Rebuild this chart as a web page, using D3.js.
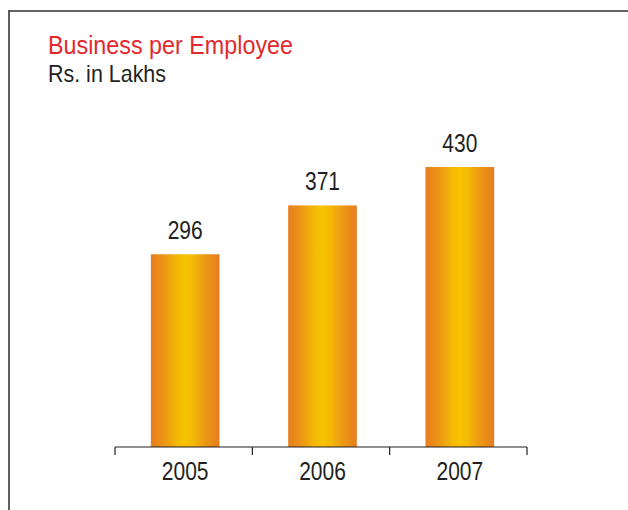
<!DOCTYPE html>
<html>
<head>
<meta charset="utf-8">
<script src="https://cdn.jsdelivr.net/npm/d3@7/dist/d3.min.js"></script>
<style>
  html, body { margin: 0; padding: 0; background: #fff; }
  svg { display: block; }
</style>
</head>
<body>
<svg id="chart" width="628" height="510"></svg>
<script>
// Business per employee, Rs. in Lakhs
const years = ["2005", "2006", "2007"];
const values = [296, 371, 430];
const titleText = "Business per Employee";
const unitText = "Rs. in Lakhs";

const svg = d3.select("#chart");
const W = 628, H = 510;

// frame: top and left rules
svg.append("line").attr("x1", 9).attr("x2", W).attr("y1", 11).attr("y2", 11)
  .attr("stroke", "#666462").attr("stroke-width", 2);
svg.append("line").attr("x1", 9).attr("x2", 9).attr("y1", 10).attr("y2", H)
  .attr("stroke", "#3a3836").attr("stroke-width", 1.6);

// titles
svg.append("text").attr("x", 48).attr("y", 54)
  .attr("font-family", "'Liberation Sans', Arial, sans-serif")
  .attr("font-size", 25).attr("fill", "#e2292d")
  .attr("textLength", 245).attr("lengthAdjust", "spacingAndGlyphs")
  .text(titleText);
svg.append("text").attr("x", 48).attr("y", 82)
  .attr("font-family", "'Liberation Sans', Arial, sans-serif")
  .attr("font-size", 24).attr("fill", "#231f20")
  .attr("textLength", 118).attr("lengthAdjust", "spacingAndGlyphs")
  .text(unitText);

// scales
const baseY = 447;
const x = d3.scaleBand().domain(years).range([115, 527])
  .paddingInner(0.5).paddingOuter(0.25);
const y = d3.scaleLinear().domain([0, 430]).range([baseY, 167]);
const shift = 1.5;
const cx = yr => x(yr) + shift + x.bandwidth() / 2;

// horizontal gradient for the bars
const defs = svg.append("defs");
const grad = defs.append("linearGradient").attr("id", "barGrad")
  .attr("x1", "0%").attr("x2", "100%").attr("y1", "0%").attr("y2", "0%");
[
  [0, "#e67d20"], [0.2, "#ec9715"], [0.38, "#f4b806"],
  [0.5, "#f7c400"], [0.62, "#f4b806"], [0.8, "#ec9715"], [1, "#e67d20"]
].forEach(([o, c]) => grad.append("stop").attr("offset", o).attr("stop-color", c));

const data = years.map((yr, i) => ({ year: yr, value: values[i] }));

svg.append("g").selectAll("rect").data(data).join("rect")
  .attr("x", d => x(d.year) + shift)
  .attr("width", x.bandwidth())
  .attr("y", d => y(d.value))
  .attr("height", d => y(0) - y(d.value))
  .attr("fill", "url(#barGrad)");

const numFont = "'Liberation Sans', Arial, sans-serif";
const narrow = 0.84;

// value labels
svg.append("g").selectAll("text").data(data).join("text")
  .attr("transform", d => `translate(${cx(d.year)},${y(d.value) - 15}) scale(${narrow},1)`)
  .attr("text-anchor", "middle")
  .attr("font-family", numFont).attr("font-size", 25).attr("fill", "#231f20")
  .text(d => d.value);

// category axis with ticks at band boundaries
const axis = svg.append("g");
const step = x.step();
const edges = [x.range()[0]].concat(years.map(yr => x(yr) + x.bandwidth() + x.paddingOuter() * step));
axis.append("line").attr("x1", x.range()[0]).attr("x2", x.range()[1])
  .attr("y1", baseY).attr("y2", baseY).attr("stroke", "#231f20").attr("stroke-width", 1.2);
axis.selectAll("line.tick").data(edges).join("line").attr("class", "tick")
  .attr("x1", d => d).attr("x2", d => d)
  .attr("y1", baseY).attr("y2", baseY + 8)
  .attr("stroke", "#231f20").attr("stroke-width", 1.2);
axis.selectAll("text").data(data).join("text")
  .attr("transform", d => `translate(${cx(d.year)},480) scale(${narrow},1)`)
  .attr("text-anchor", "middle")
  .attr("font-family", numFont).attr("font-size", 25).attr("fill", "#231f20")
  .text(d => d.year);
</script>
</body>
</html>
